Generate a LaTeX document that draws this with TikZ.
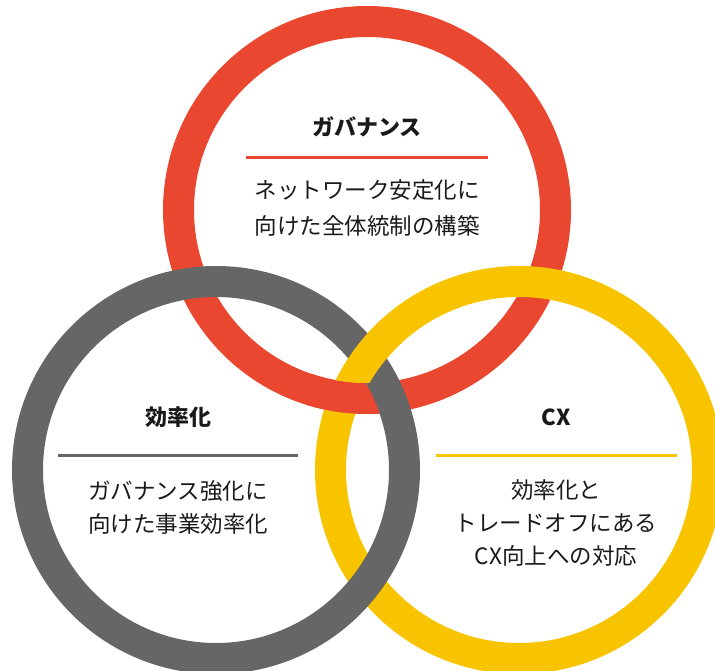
\documentclass[tikz,border=0pt]{standalone}
\usepackage{fontspec}
\newfontfamily\jp{Noto Sans CJK JP}
\definecolor{ringred}{HTML}{E9472F}
\definecolor{ringgray}{HTML}{666666}
\definecolor{ringyel}{HTML}{F8C400}
\definecolor{txt}{HTML}{1A1A1A}
\begin{document}
\begin{tikzpicture}[x=1pt,y=-1pt,
  ringline/.style={line width=31pt},
  divider/.style={line width=3pt},
  titletext/.style={font=\jp\bfseries\fontsize{22}{26}\selectfont, text=txt, inner sep=0pt},
  bodytext/.style={font=\jp\fontsize{22.5}{34}\selectfont, text=txt, align=center, inner sep=0pt}]
\useasboundingbox[fill=white] (0,0) rectangle (715,671);
\coordinate (R) at (367,210);
\coordinate (G) at (216,470);
\coordinate (Y) at (519,470);
\coordinate (PRY) at (345.1,397.2);
\coordinate (PGY) at (367.5,357.8);
% full rings
\draw[ringline, draw=ringred] (R) circle[radius=188.5];
\draw[ringline, draw=ringyel] (Y) circle[radius=188.5];
\draw[ringline, draw=ringgray] (G) circle[radius=188.5];
% red over yellow at inner crossing
\begin{scope}
  \clip (G) circle[radius=173];
  \clip (PRY) circle[radius=40];
  \draw[ringline, draw=ringred] (R) circle[radius=188.5];
\end{scope}
% yellow over gray at upper crossing
\begin{scope}
  \clip (R) circle[radius=173];
  \clip (PGY) circle[radius=40];
  \draw[ringline, draw=ringyel] (Y) circle[radius=188.5];
\end{scope}
% governance
\node[titletext] (tR) at (367,127) {ガバナンス};
\coordinate (dRa) at (246,158);
\coordinate (dRb) at (488,158);
\draw[divider, draw=ringred] (dRa) -- (dRb);
\node[bodytext, font=\jp\fontsize{22.5}{36}\selectfont] (bR) at (367,208) {ネットワーク安定化に\\向けた全体統制の構築};
% efficiency
\node[titletext] (tG) at (178,417) {効率化};
\coordinate (dGa) at (58,455);
\coordinate (dGb) at (298,455);
\draw[divider, draw=ringgray] (dGa) -- (dGb);
\node[bodytext, font=\jp\fontsize{22.5}{33}\selectfont] (bG) at (178,507) {ガバナンス強化に\\向けた事業効率化};
% CX
\node[titletext] (tY) at (556,417) {CX};
\coordinate (dYa) at (436,455);
\coordinate (dYb) at (677,455);
\draw[divider, draw=ringyel] (dYa) -- (dYb);
\node[bodytext, font=\jp\fontsize{22.5}{33}\selectfont] (bY) at (556,523) {効率化と\\トレードオフにある\\CX向上への対応};
\end{tikzpicture}
\end{document}
